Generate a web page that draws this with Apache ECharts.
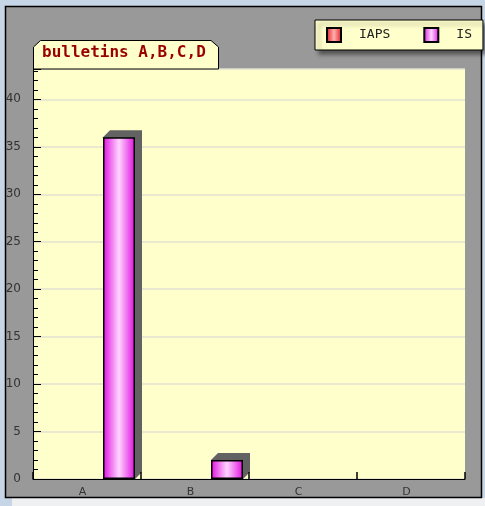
<!DOCTYPE html>
<html>
<head>
<meta charset="utf-8">
<script src="https://cdn.jsdelivr.net/npm/echarts@6/dist/echarts.min.js"></script>
<style>
  html, body { margin: 0; padding: 0; background: #c6d6e6; }
  #chart { width: 485px; height: 506px; }
</style>
</head>
<body>
<div id="chart"></div>
<script>
// données du graphique
const categories = ['A', 'B', 'C', 'D'];
const iapsValues = [0, 0, 0, 0];
const isValues = [36, 2, 0, 0];
const titleText = 'bulletins A,B,C,D';

const chart = echarts.init(document.getElementById('chart'));

const BAR_W = 32;
const DEPTH = 7;

// ombre "3D" derrière les barres IS
function renderShadow(params, api) {
  const v = api.value(1);
  if (!v) return null;
  const base = api.coord([api.value(0), 0]);
  const top = api.coord([api.value(0), v]);
  const left = base[0] + BAR_W / 2;
  const right = left + BAR_W;
  return {
    type: 'polygon',
    shape: {
      points: [
        [left, top[1]],
        [left + DEPTH, top[1] - DEPTH],
        [right + DEPTH, top[1] - DEPTH],
        [right + DEPTH, base[1] - DEPTH],
        [right, base[1]],
        [left, base[1]]
      ]
    },
    style: { fill: '#626262' }
  };
}

const barGrad = (edge, mid) => ({
  type: 'linear', x: 0, y: 0, x2: 1, y2: 0,
  colorStops: [
    { offset: 0, color: edge },
    { offset: 0.5, color: mid },
    { offset: 1, color: edge }
  ]
});

// pas de bordure pour les barres à zéro
const barData = (vals) => vals.map(v => v === 0 ? { value: v, itemStyle: { borderWidth: 0, opacity: 0 } } : v);

const options = {
  backgroundColor: '#c6d6e6',
  animation: false,
  graphic: [
    { type: 'rect', z: -10, shape: { x: 12, y: 498, width: 473, height: 8 }, style: { fill: '#eef0f2' } },
    { type: 'rect', z: -5, shape: { x: 5.5, y: 6.5, width: 476, height: 491 }, style: { fill: '#999999', stroke: '#000', lineWidth: 1.5 } },
    {
      type: 'polygon', z: 5,
      shape: { points: [[33.5, 47], [40.5, 40.5], [211, 40.5], [218.5, 47], [218.5, 69], [33.5, 69]] },
      style: { fill: '#ffffcc', stroke: '#000', lineWidth: 1 }
    },
    {
      type: 'text', z: 6, left: 42, top: 45,
      style: { text: titleText, fill: '#990000', font: 'bold 16px "DejaVu Sans Mono"' }
    }
  ],
  legend: {
    left: 315,
    top: 20,
    padding: [7, 11],
    itemWidth: 14,
    itemHeight: 14,
    itemGap: 33,
    backgroundColor: '#ffffcc',
    borderColor: '#000',
    borderWidth: 1,
    borderRadius: 0,
    shadowColor: 'rgba(0,0,0,0.45)',
    shadowBlur: 4,
    shadowOffsetX: 4,
    shadowOffsetY: 4,
    icon: 'rect',
    textStyle: { fontFamily: 'DejaVu Sans Mono', fontSize: 13, color: '#222', padding: [0, 0, 0, 13] },
    data: ['IAPS', 'IS']
  },
  grid: {
    left: 33, top: 69, right: 20, bottom: 27,
    show: true, backgroundColor: '#ffffcc', borderWidth: 0
  },
  xAxis: {
    type: 'category',
    data: categories,
    z: 5,
    boundaryGap: true,
    axisLine: { lineStyle: { color: '#000', width: 1 } },
    axisTick: { show: true, interval: 0, alignWithLabel: false, inside: true, length: 7, lineStyle: { color: '#000', width: 1.5 } },
    axisLabel: { color: '#333', fontSize: 11, fontFamily: 'DejaVu Sans', margin: 8, padding: [0, 9, 0, 0] },
    splitLine: { show: false }
  },
  yAxis: {
    type: 'value',
    min: 0,
    max: 43.2,
    interval: 5,
    axisLine: { show: true, lineStyle: { color: '#000', width: 1 } },
    axisTick: { show: true, inside: true, length: 8, lineStyle: { color: '#000' } },
    minorTick: { show: true, splitNumber: 5, length: 5, lineStyle: { color: '#000' } },
    axisLabel: { color: '#333', fontSize: 12, fontFamily: 'DejaVu Sans', margin: 12, showMaxLabel: false },
    splitLine: { lineStyle: { color: '#e2e2d0', width: 1.5 } }
  },
  series: [
    {
      name: 'IS-shadow',
      type: 'custom',
      renderItem: renderShadow,
      data: categories.map((c, i) => [i, isValues[i]]),
      z: 1,
      silent: true
    },
    {
      name: 'IAPS',
      type: 'bar',
      data: barData(iapsValues),
      barWidth: BAR_W,
      barGap: '100%',
      z: 2,
      itemStyle: { color: barGrad('#e01818', '#ffb0b0'), borderColor: '#000', borderWidth: 1 }
    },
    {
      name: 'IS',
      type: 'bar',
      data: barData(isValues),
      barWidth: BAR_W,
      barGap: '100%',
      z: 2,
      itemStyle: { color: barGrad('#e010e0', '#ffd4ff'), borderColor: '#000', borderWidth: 1.5 }
    }
  ]
};

chart.setOption(options);

window.addEventListener('resize', () => {
  chart.resize();
});
</script>
</body>
</html>
